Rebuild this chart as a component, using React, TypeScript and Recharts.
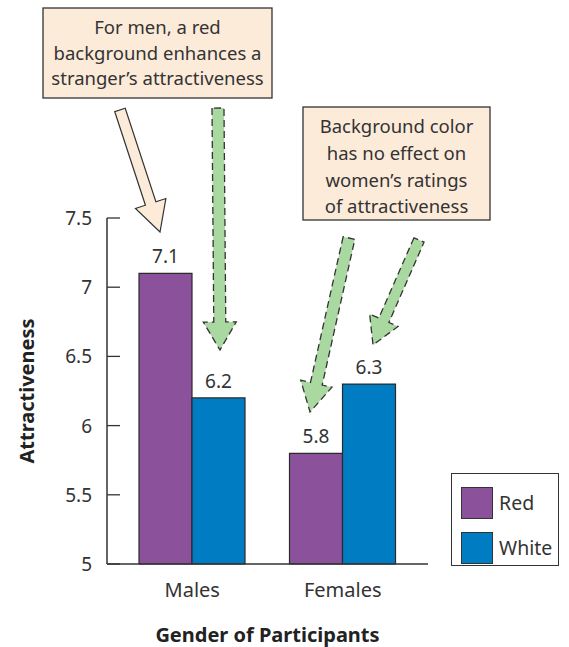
import { Bar, BarChart, LabelList, Legend, XAxis, YAxis } from "recharts";

const groups = ["Males", "Females"];
const redValues = [7.1, 5.8];
const whiteValues = [6.2, 6.3];
const yTicks = [5, 5.5, 6, 6.5, 7, 7.5];

const data = groups.map((g, i) => ({ group: g, red: redValues[i], white: whiteValues[i] }));

const FONT = "'Noto Sans', 'Open Sans', sans-serif";
const INK = "#333333";
const PURPLE = "#8B529B";
const BLUE = "#007CC3";
const PEACH = "#FDEBDA";
const GREEN = "#A9D8A0";

// arrow outline: shaft from start, head ending at tip
function arrowPoints(sx: number, sy: number, tx: number, ty: number, w: number, hw: number, hl: number) {
  const len = Math.hypot(tx - sx, ty - sy);
  const ux = (tx - sx) / len;
  const uy = (ty - sy) / len;
  const nx = -uy;
  const ny = ux;
  const bx = tx - ux * hl;
  const by = ty - uy * hl;
  const pts = [
    [sx + (nx * w) / 2, sy + (ny * w) / 2],
    [bx + (nx * w) / 2, by + (ny * w) / 2],
    [bx + (nx * hw) / 2, by + (ny * hw) / 2],
    [tx, ty],
    [bx - (nx * hw) / 2, by - (ny * hw) / 2],
    [bx - (nx * w) / 2, by - (ny * w) / 2],
    [sx - (nx * w) / 2, sy - (ny * w) / 2],
  ];
  return pts.map((p) => p.join(",")).join(" ");
}

function YTick(props: any) {
  const { x, y, payload } = props;
  const axisX = x + 8;
  return (
    <g>
      <line x1={axisX} x2={axisX + 13} y1={y} y2={y} stroke={INK} strokeWidth={1.3} />
      <text x={axisX - 15} y={y + 7} textAnchor="end" fontSize={19} fill={INK} fontFamily={FONT}>
        {payload.value}
      </text>
    </g>
  );
}

function XTick(props: any) {
  const { x, y, payload } = props;
  return (
    <text x={x} y={y + 25} textAnchor="middle" fontSize={20} fill={INK} fontFamily={FONT}>
      {payload.value}
    </text>
  );
}

function LegendBox(props: any) {
  const items = props.payload || [];
  return (
    <div
      style={{
        boxSizing: "border-box",
        width: 108,
        height: 93,
        border: `1.5px solid ${INK}`,
        background: "#fff",
        padding: "6px 0 0 9px",
        fontFamily: FONT,
        fontSize: 19.5,
        color: INK,
      }}
    >
      {items.map((it: any) => (
        <div key={it.value} style={{ display: "flex", alignItems: "center", height: 45 }}>
          <span
            style={{
              display: "inline-block",
              boxSizing: "border-box",
              width: 32,
              height: 32,
              background: it.color,
              border: `1.2px solid ${INK}`,
              marginRight: 6,
            }}
          />
          {it.value}
        </div>
      ))}
    </div>
  );
}

export default function App() {
  return (
    <div style={{ position: "relative", width: 569, height: 647, background: "#fff" }}>
      <style>{`body{margin:0}`}</style>
      <BarChart
        width={569}
        height={647}
        data={data}
        margin={{ top: 218, right: 141, bottom: 0, left: 0 }}
        barGap={0}
        barSize={53}
      >
        <XAxis
          dataKey="group"
          height={83}
          padding={{ left: 10, right: 10 }}
          tickLine={false}
          axisLine={{ stroke: INK, strokeWidth: 1.5 }}
          tick={<XTick />}
          label={{
            value: "Gender of Participants",
            position: "insideBottom",
            offset: 5,
            fill: "#222",
            fontSize: 20,
            fontWeight: 700,
            fontFamily: FONT,
          }}
        />
        <YAxis
          width={107}
          domain={[5, 7.5]}
          ticks={yTicks}
          interval={0}
          tickLine={false}
          axisLine={{ stroke: INK, strokeWidth: 1.5 }}
          tick={<YTick />}
          label={{
            value: "Attractiveness",
            angle: -90,
            position: "insideLeft",
            offset: 27,
            fill: "#222",
            fontSize: 20,
            fontWeight: 700,
            fontFamily: FONT,
            style: { textAnchor: "middle" },
          }}
        />
        <Legend
          layout="vertical"
          align="center"
          verticalAlign="middle"
          content={<LegendBox />}
          wrapperStyle={{ left: 451, top: 473, width: 108, height: 93 }}
        />
        <Bar dataKey="red" name="Red" fill={PURPLE} stroke="#2a2a2a" strokeWidth={1.2} isAnimationActive={false}>
          <LabelList dataKey="red" position="top" offset={10} fontSize={19} fill={INK} fontFamily={FONT} />
        </Bar>
        <Bar dataKey="white" name="White" fill={BLUE} stroke="#2a2a2a" strokeWidth={1.2} isAnimationActive={false}>
          <LabelList dataKey="white" position="top" offset={10} fontSize={19} fill={INK} fontFamily={FONT} />
        </Bar>
      </BarChart>
      <svg
        width={569}
        height={647}
        style={{ position: "absolute", left: 0, top: 0, pointerEvents: "none" }}
        fontFamily={FONT}
      >
        <rect x={43} y={8} width={229} height={90} fill={PEACH} stroke={INK} strokeWidth={1.3} />
        <text x={157.5} y={34} textAnchor="middle" fontSize={18.5} fill={INK}>For men, a red</text>
        <text x={157.5} y={59.5} textAnchor="middle" fontSize={18.5} fill={INK}>background enhances a</text>
        <text x={157.5} y={85} textAnchor="middle" fontSize={18.5} fill={INK}>stranger’s attractiveness</text>

        <rect x={303} y={107} width={187} height={113} fill={PEACH} stroke={INK} strokeWidth={1.3} />
        <text x={396.5} y={133} textAnchor="middle" fontSize={18.5} fill={INK}>Background color</text>
        <text x={396.5} y={160} textAnchor="middle" fontSize={18.5} fill={INK}>has no effect on</text>
        <text x={396.5} y={187} textAnchor="middle" fontSize={18.5} fill={INK}>women’s ratings</text>
        <text x={396.5} y={213} textAnchor="middle" fontSize={18.5} fill={INK}>of attractiveness</text>

        <polygon points={arrowPoints(120, 110, 160, 232, 11, 32, 30)} fill={PEACH} stroke={INK} strokeWidth={1.2} />
        <polygon
          points={arrowPoints(218, 108, 220, 350, 12, 33, 28)}
          fill={GREEN}
          stroke={INK}
          strokeWidth={1.3}
          strokeDasharray="7 4"
        />
        <polygon
          points={arrowPoints(349, 238, 310, 412, 12, 32, 29)}
          fill={GREEN}
          stroke={INK}
          strokeWidth={1.3}
          strokeDasharray="7 4"
        />
        <polygon
          points={arrowPoints(419, 240, 373, 345, 11, 31, 27)}
          fill={GREEN}
          stroke={INK}
          strokeWidth={1.3}
          strokeDasharray="7 4"
        />
      </svg>
    </div>
  );
}
